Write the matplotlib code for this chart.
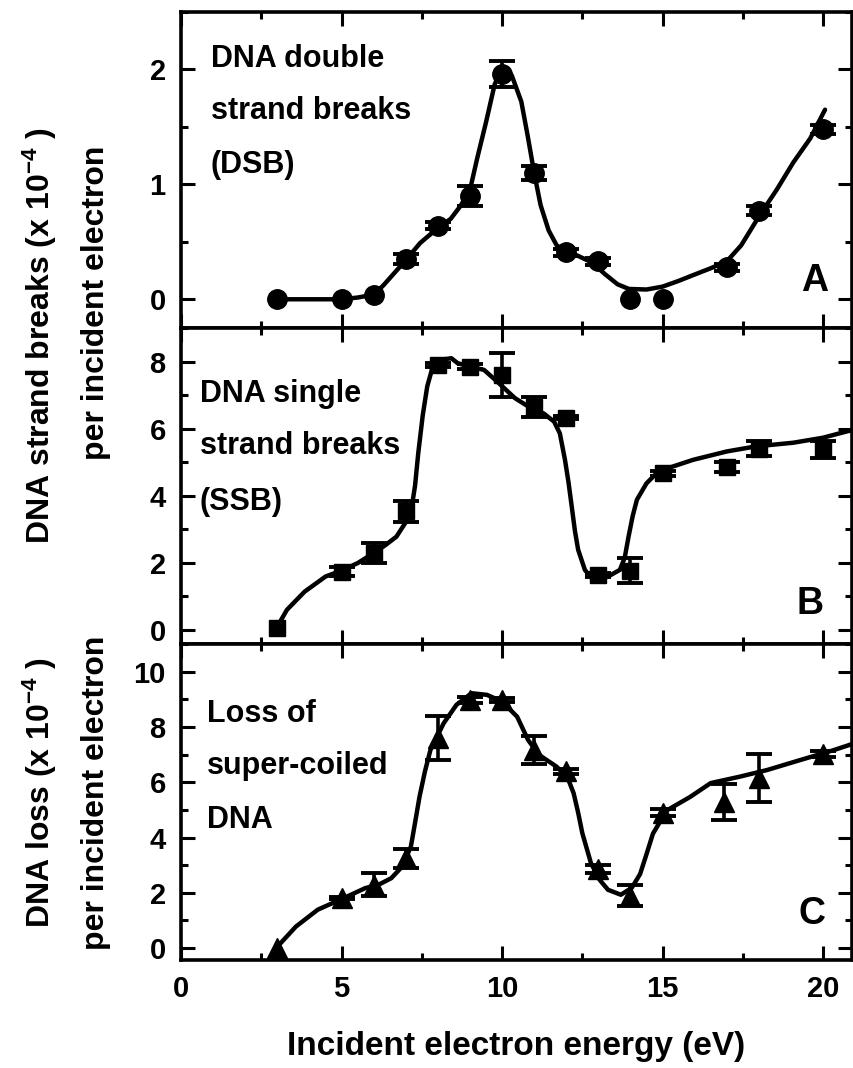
import matplotlib
matplotlib.use("Agg")
import matplotlib.pyplot as plt
from matplotlib.ticker import MultipleLocator, FixedLocator

plt.rcParams['font.family'] = ['Liberation Sans', 'DejaVu Sans']
plt.rcParams['font.weight'] = 'bold'
plt.rcParams['mathtext.fontset'] = 'custom'
plt.rcParams['mathtext.rm'] = 'Liberation Sans:bold'
plt.rcParams['mathtext.it'] = 'Liberation Sans:bold'
plt.rcParams['mathtext.bf'] = 'Liberation Sans:bold'
plt.rcParams['mathtext.default'] = 'regular'

# ---------------- data ----------------
# Panel A: DNA double strand breaks (x1e-4 per incident electron)
energy_dsb = [3, 5, 6, 7, 8, 9, 10, 11, 12, 13, 14, 15, 17, 18, 20]
dsb = [0.0, 0.0, 0.04, 0.35, 0.64, 0.90, 1.96, 1.10, 0.41, 0.33, 0.0, 0.0, 0.28, 0.77, 1.48]
dsb_err = [0, 0, 0, 0.04, 0.03, 0.085, 0.11, 0.06, 0.03, 0.03, 0, 0, 0.03, 0.04, 0.04]
curve_dsb_x = [3.0, 5.0, 5.5, 6.0, 6.3, 6.65, 7.0, 7.45, 8.0, 8.4, 8.7, 9.0, 9.22, 9.5,
               9.77, 10.0, 10.3, 10.6, 10.8, 11.0, 11.2, 11.45, 11.7, 11.95, 12.35,
               12.8, 13.2, 13.6, 13.95, 14.5, 15.0, 15.5, 15.95, 16.5, 17.0, 17.45,
               18.0, 18.57, 19.07, 19.6, 20.06]
curve_dsb_y = [0.0, 0.0, 0.015, 0.04, 0.12, 0.23, 0.34, 0.49, 0.62, 0.70, 0.81, 0.95,
               1.22, 1.54, 1.87, 2.01, 1.95, 1.72, 1.42, 1.10, 0.82, 0.60, 0.47, 0.42,
               0.38, 0.32, 0.22, 0.13, 0.09, 0.085, 0.11, 0.16, 0.21, 0.27, 0.33,
               0.47, 0.72, 0.96, 1.19, 1.40, 1.65]

# Panel B: DNA single strand breaks
energy_ssb = [3, 5, 6, 7, 8, 9, 10, 11, 12, 13, 14, 15, 17, 18, 20]
ssb = [0.05, 1.74, 2.29, 3.53, 7.9, 7.85, 7.6, 6.64, 6.33, 1.64, 1.77, 4.67, 4.87, 5.40, 5.37]
ssb_err = [0, 0.14, 0.30, 0.31, 0.05, 0.07, 0.65, 0.30, 0.05, 0.06, 0.38, 0.08, 0.15, 0.22, 0.25]
curve_ssb_x = [3.0, 3.3, 3.85, 4.5, 5.0, 5.5, 6.0, 6.37, 6.71, 6.98, 7.1, 7.19, 7.29,
               7.39, 7.53, 7.67, 7.87, 8.08, 8.42, 8.62, 9.0, 9.44, 9.85, 10.4, 10.9,
               11.3, 11.62, 11.8, 11.96, 12.07, 12.17, 12.27, 12.37, 12.58, 12.82,
               13.06, 13.3, 13.67, 13.82, 13.94, 14.07, 14.2, 14.5, 14.76, 15.0, 15.95,
               17.0, 17.9, 19.07, 20.0, 20.75, 20.9]
curve_ssb_y = [0.1, 0.6, 1.14, 1.59, 1.77, 1.99, 2.29, 2.53, 2.78, 3.18, 3.38, 3.68,
               4.3, 5.27, 6.4, 7.26, 7.95, 8.05, 8.1, 7.95, 7.85, 7.75, 7.4, 6.91, 6.61,
               6.45, 6.21, 5.86, 5.07, 4.4, 3.68, 2.95, 2.39, 1.79, 1.51, 1.51, 1.59,
               1.79, 2.15, 2.78, 3.4, 3.88, 4.37, 4.62, 4.77, 5.07, 5.32, 5.47, 5.58,
               5.73, 5.92, 5.95]

# Panel C: loss of super-coiled DNA
energy_scl = [3, 5, 6, 7, 8, 9, 10, 11, 12, 13, 14, 15, 16.9, 18, 20]
scl = [0.0, 1.81, 2.29, 3.25, 7.6, 8.98, 8.98, 7.17, 6.39, 2.86, 1.90, 4.90, 5.28, 6.15, 7.02]
scl_err = [0, 0.05, 0.42, 0.35, 0.78, 0.10, 0.08, 0.51, 0.08, 0.14, 0.37, 0.13, 0.65, 0.87, 0.10]
curve_scl_x = [3.0, 3.58, 4.26, 5.07, 5.74, 6.15, 6.55, 6.89, 7.16, 7.3, 7.43, 7.6,
               7.77, 8.18, 8.58, 9.05, 9.53, 10.0, 10.47, 10.81, 11.15, 11.69, 12.03,
               12.23, 12.37, 12.5, 12.77, 13.04, 13.3, 13.7, 14.04, 14.3, 14.5, 14.7,
               15.13, 15.86, 16.5, 17.4, 18.25, 19.28, 20.3, 20.9]
curve_scl_y = [0.05, 0.78, 1.39, 1.81, 2.17, 2.29, 2.53, 2.95, 3.67, 4.6, 5.48, 6.4,
               7.17, 8.13, 8.8, 9.22, 9.16, 8.92, 8.37, 7.53, 6.99, 6.57, 6.2, 5.6,
               4.9, 4.16, 3.07, 2.47, 2.11, 1.93, 2.18, 2.68, 3.4, 4.14, 4.98, 5.47,
               5.97, 6.2, 6.44, 6.8, 7.15, 7.38]

x_ticks = [0, 5, 10, 15, 20]
yticks_A = [0, 1, 2]
yticks_B = [0, 2, 4, 6, 8]
yticks_C = [0, 2, 4, 6, 8, 10]

# ---------------- figure ----------------
W, H = 854, 1068
fig = plt.figure(figsize=(W / 100, H / 100), dpi=100)

left_px, right_px = 181, 852
panel_tops = [12, 328, 644]
panel_h = 316


def add_panel(top_px):
    return fig.add_axes([left_px / W, 1 - (top_px + panel_h) / H,
                         (right_px - left_px) / W, panel_h / H])


axA = add_panel(panel_tops[0])
axB = add_panel(panel_tops[1])
axC = add_panel(panel_tops[2])

panels = [
    (axA, energy_dsb, dsb, dsb_err, curve_dsb_x, curve_dsb_y, 'o', 14, (-0.25, 2.5),
     yticks_A, 0.5),
    (axB, energy_ssb, ssb, ssb_err, curve_ssb_x, curve_ssb_y, 's', 12, (-0.42, 9.0),
     yticks_B, 1),
    (axC, energy_scl, scl, scl_err, curve_scl_x, curve_scl_y, '^', 14, (-0.43, 11.0),
     yticks_C, 1),
]

for ax, ex, ey, ee, cx, cy, mk, ms, ylim, yt, ymin in panels:
    ax.plot(cx, cy, color='k', lw=3.2, zorder=2, solid_joinstyle='round',
            solid_capstyle='round')
    ax.plot(ex, ey, linestyle='none', marker=mk, ms=ms, color='k', zorder=3)
    xs = [x for x, e in zip(ex, ee) if e > 0]
    ys = [y for y, e in zip(ey, ee) if e > 0]
    es = [e for e in ee if e > 0]
    ax.errorbar(xs, ys, yerr=es, fmt='none', ecolor='k', elinewidth=2.6,
                capsize=9.5, capthick=2.8, zorder=3)
    ax.set_xlim(0, 20.9)
    ax.set_ylim(*ylim)
    ax.xaxis.set_major_locator(FixedLocator(x_ticks))
    ax.xaxis.set_minor_locator(MultipleLocator(2.5))
    ax.yaxis.set_major_locator(FixedLocator(yt))
    ax.yaxis.set_minor_locator(MultipleLocator(ymin))
    ax.tick_params(which='both', direction='in', top=True, right=True, width=2.2)
    ax.tick_params(which='major', length=10, labelsize=21, pad=11)
    ax.tick_params(which='minor', length=5)
    for s in ax.spines.values():
        s.set_linewidth(2.6)
    for lab in ax.get_yticklabels():
        lab.set_fontweight('bold')
    if ax is not axC:
        ax.tick_params(labelbottom=False)

for lab in axC.get_xticklabels():
    lab.set_fontweight('bold')
axC.set_xlabel('Incident electron energy (eV)', fontsize=24, fontweight='bold',
               labelpad=20)


def fx(px):
    return px / W


def fy(py):
    return 1 - py / H


# panel annotations
anno = [
    (211, [67, 119, 173], ['DNA double', 'strand breaks', '(DSB)']),
    (200, [402, 454, 510], ['DNA single', 'strand breaks', '(SSB)']),
    (207, [722, 774, 828], ['Loss of', 'super-coiled', 'DNA']),
]
for xp, yps, lines in anno:
    for yp, txt in zip(yps, lines):
        fig.text(fx(xp), fy(yp), txt, fontsize=22, fontweight='bold',
                 ha='left', va='baseline')

for letter, (xp, yp) in zip(['A', 'B', 'C'], [(815, 281), (810, 604), (812, 914)]):
    fig.text(fx(xp), fy(yp), letter, fontsize=27, fontweight='bold',
             ha='center', va='center')

# y-axis labels
fig.text(fx(40), fy(336), 'DNA strand breaks (x 10$^{-4}$ )', rotation=90,
         fontsize=23, fontweight='bold', ha='center', va='center')
fig.text(fx(96), fy(303), 'per incident electron', rotation=90,
         fontsize=23, fontweight='bold', ha='center', va='center')
fig.text(fx(40), fy(793), 'DNA loss (x 10$^{-4}$ )', rotation=90,
         fontsize=23, fontweight='bold', ha='center', va='center')
fig.text(fx(96), fy(793), 'per incident electron', rotation=90,
         fontsize=23, fontweight='bold', ha='center', va='center')

fig.savefig('out.png', dpi=100)
